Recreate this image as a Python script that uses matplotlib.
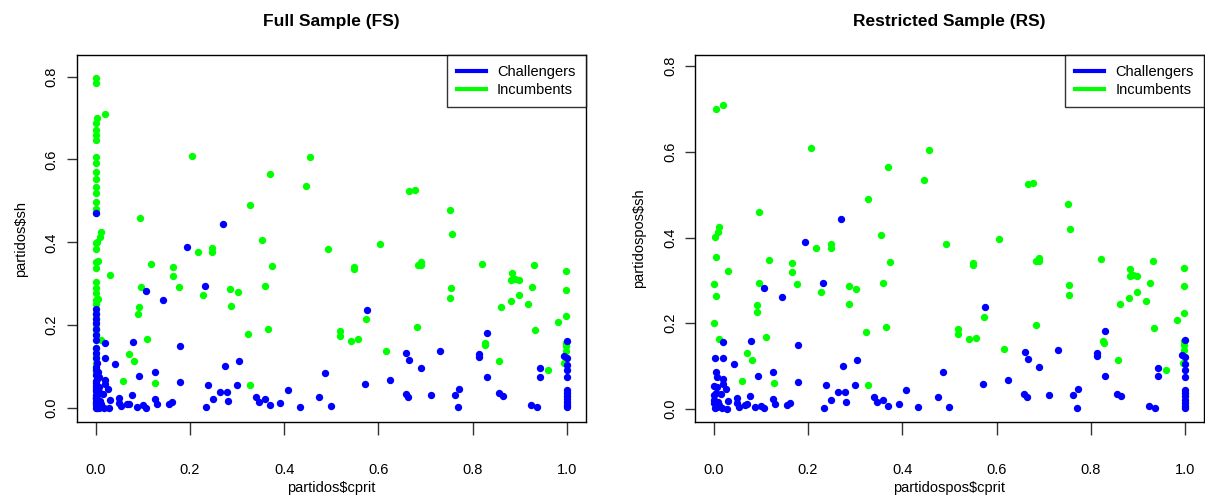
import matplotlib
matplotlib.use("Agg")
import matplotlib.pyplot as plt
from matplotlib.lines import Line2D

plt.rcParams['font.family'] = ['Liberation Sans', 'DejaVu Sans']

# ---------------- data ----------------
# points shared by both samples: incumbents
inc_x = [0.004, 0.019, 0.011, 0.009, 0.003, 0.005, 0.031, 0.001, 0.005, 0.000, 0.011,
         0.2055, 0.456, 0.370, 0.447, 0.328, 0.095, 0.354,
         0.666, 0.677, 0.752, 0.756,
         0.117, 0.165, 0.165, 0.177, 0.096, 0.092, 0.091, 0.110, 0.071, 0.082, 0.059, 0.127,
         0.218, 0.248, 0.248, 0.374, 0.360, 0.286, 0.302, 0.228, 0.287, 0.365, 0.323, 0.328,
         0.493, 0.6045, 0.549, 0.549, 0.684, 0.691, 0.691, 0.8205, 0.884, 0.8825, 0.890, 0.898,
         0.931, 0.998, 0.926, 0.998, 0.7535, 0.753, 0.8975, 0.881, 0.861, 0.918, 0.998, 0.982,
         0.933, 0.573, 0.683, 0.519, 0.519, 0.542, 0.556, 0.616, 0.8255, 0.827, 0.857,
         0.998, 0.998, 0.998, 0.995, 0.959]
inc_y = [0.700, 0.710, 0.424, 0.414, 0.401, 0.355, 0.321, 0.291, 0.263, 0.201, 0.164,
         0.609, 0.605, 0.564, 0.535, 0.491, 0.460, 0.405,
         0.525, 0.527, 0.479, 0.420,
         0.348, 0.341, 0.320, 0.292, 0.293, 0.243, 0.227, 0.168, 0.130, 0.115, 0.065, 0.060,
         0.376, 0.386, 0.376, 0.343, 0.295, 0.288, 0.280, 0.274, 0.246, 0.191, 0.179, 0.055,
         0.385, 0.397, 0.340, 0.335, 0.346, 0.352, 0.346, 0.349, 0.327, 0.310, 0.312, 0.310,
         0.346, 0.330, 0.293, 0.286, 0.289, 0.265, 0.272, 0.259, 0.245, 0.252, 0.223, 0.207,
         0.188, 0.214, 0.197, 0.187, 0.175, 0.163, 0.166, 0.139, 0.158, 0.153, 0.115,
         0.158, 0.149, 0.137, 0.108, 0.091]

# points shared by both samples: challengers
chal_x = [0.020, 0.002, 0.020, 0.042, 0.005, 0.008, 0.020, 0.020, 0.001, 0.008, 0.026, 0.005,
          0.016, 0.000, 0.000, 0.010, 0.030, 0.000, 0.012, 0.006, 0.003, 0.017, 0.029,
          0.050, 0.049, 0.053, 0.067, 0.071, 0.078, 0.088, 0.0997, 0.107, 0.093, 0.107,
          0.079, 0.1265, 0.1265, 0.131, 0.156, 0.162, 0.179, 0.179, 0.144, 0.194, 0.232,
          0.238, 0.249, 0.234, 0.263, 0.279, 0.281, 0.274, 0.304, 0.300, 0.340, 0.347,
          0.359, 0.3705, 0.392, 0.271,
          0.408, 0.433, 0.475, 0.487, 0.4993, 0.5756, 0.8305, 0.572, 0.624, 0.6596, 0.666,
          0.691, 0.731, 0.813, 0.813, 0.8305, 0.659, 0.664, 0.712, 0.762, 0.772, 0.770,
          0.855, 0.8635, 0.924, 0.937, 0.943, 0.943,
          1.000, 0.994, 1.000, 1.000, 1.000, 1.000, 1.000, 1.000, 1.000, 1.000, 1.000,
          1.000, 1.000]
chal_y = [0.157, 0.120, 0.120, 0.106, 0.087, 0.075, 0.069, 0.058, 0.054, 0.052, 0.046, 0.037,
          0.035, 0.033, 0.021, 0.017, 0.019, 0.0145, 0.0105, 0.0055, 0.0015, 0.0015, 0.000,
          0.025, 0.013, 0.0054, 0.009, 0.011, 0.031, 0.004, 0.0077, 0.0016, 0.078, 0.283,
          0.159, 0.087, 0.0226, 0.011, 0.010, 0.0147, 0.150, 0.064, 0.262, 0.390, 0.295,
          0.057, 0.022, 0.003, 0.040, 0.040, 0.017, 0.101, 0.115, 0.057, 0.027, 0.016,
          0.022, 0.008, 0.012, 0.444,
          0.045, 0.004, 0.028, 0.086, 0.0055, 0.238, 0.182, 0.059, 0.067, 0.134, 0.117,
          0.098, 0.137, 0.131, 0.1245, 0.076, 0.034, 0.027, 0.032, 0.032, 0.047, 0.002,
          0.036, 0.030, 0.007, 0.002, 0.0965, 0.076,
          0.162, 0.126, 0.121, 0.1045, 0.092, 0.075, 0.044, 0.037, 0.030, 0.022, 0.015,
          0.008, 0.002]

# extra points only in the full sample (cprit close to zero)
fs_inc_x = [0.0] * 32
fs_inc_y = [0.796, 0.784, 0.689, 0.671, 0.659, 0.646, 0.606, 0.591, 0.569, 0.552, 0.533,
            0.519, 0.497, 0.480, 0.470, 0.398, 0.383, 0.353, 0.337, 0.305, 0.277, 0.261,
            0.252, 0.229, 0.217, 0.189, 0.179, 0.145, 0.125, 0.109, 0.095, 0.085]
fs_chal_x = [0.000, 0.000, 0.000, 0.000, 0.000, 0.000, 0.000, 0.000, 0.000, 0.000, 0.000,
             0.000, 0.000, 0.000, 0.000, 0.000, 0.000, 0.000, 0.000, 0.000, 0.000, 0.000,
             0.007, 0.004, 0.009, 0.003, 0.006]
fs_chal_y = [0.470, 0.239, 0.228, 0.215, 0.205, 0.190, 0.177, 0.165, 0.145, 0.133, 0.100,
             0.092, 0.081, 0.066, 0.062, 0.047, 0.042, 0.027, 0.025, 0.012, 0.008, 0.000,
             0.000, 0.070, 0.036, 0.110, 0.020]

panels = [
    dict(title="Full Sample (FS)", xlabel="partidos$cprit", ylabel="partidos$sh",
         inc=(inc_x + fs_inc_x, inc_y + fs_inc_y),
         chal=(chal_x + fs_chal_x, chal_y + fs_chal_y),
         rect=[76.7 / 1205, 1 - 422.3 / 498, (585.7 - 76.7) / 1205, (422.3 - 55) / 498],
         ylim=(-0.034, 0.852), xlim=(-0.04, 1.04)),
    dict(title="Restricted Sample (RS)", xlabel="partidospos$cprit", ylabel="partidospos$sh",
         inc=(inc_x, inc_y), chal=(chal_x, chal_y),
         rect=[695 / 1205, 1 - 422.3 / 498, (1204 - 695) / 1205, (422.3 - 55) / 498],
         ylim=(-0.031, 0.826), xlim=(-0.0397, 1.040)),
]

xticks = [0.0, 0.2, 0.4, 0.6, 0.8, 1.0]
yticks = [0.0, 0.2, 0.4, 0.6, 0.8]
tick_labels_x = ["0.0", "0.2", "0.4", "0.6", "0.8", "1.0"]
tick_labels_y = ["0.0", "0.2", "0.4", "0.6", "0.8"]

BLUE = "#0000FF"
GREEN = "#00FF00"

fig = plt.figure(figsize=(12.05, 4.98), dpi=100)
for p in panels:
    ax = fig.add_axes(p["rect"])
    ax.scatter(p["inc"][0], p["inc"][1], s=28, c=GREEN, linewidths=0, zorder=2)
    ax.scatter(p["chal"][0], p["chal"][1], s=28, c=BLUE, linewidths=0, zorder=3)
    ax.set_xlim(*p["xlim"])
    ax.set_ylim(*p["ylim"])
    ax.set_xticks(xticks)
    ax.set_xticklabels(tick_labels_x)
    ax.set_yticks(yticks)
    ax.set_yticklabels(tick_labels_y, rotation=90, va="center")
    ax.tick_params(axis="x", length=9, width=1, labelsize=10.5, pad=20, color="#333333")
    ax.tick_params(axis="y", length=7, width=1, labelsize=10.5, pad=6, color="#333333")
    for sp in ax.spines.values():
        sp.set_linewidth(1.0)
        sp.set_color("black")
    ax.set_title(p["title"], fontsize=12.5, fontweight="bold", pad=21)
    ax.set_xlabel(p["xlabel"], fontsize=10.5, labelpad=3)
    ax.set_ylabel(p["ylabel"], fontsize=10.5, labelpad=12)
    handles = [Line2D([], [], color=BLUE, lw=3), Line2D([], [], color=GREEN, lw=3)]
    leg = ax.legend(handles, ["Challengers", "Incumbents"], loc="upper right",
                    fontsize=10.5, frameon=True, fancybox=False, borderaxespad=0,
                    handlelength=2.0, handletextpad=0.75, borderpad=0.7,
                    labelspacing=0.25)
    leg.get_frame().set_edgecolor("black")
    leg.get_frame().set_linewidth(1.0)

fig.savefig("out.png", dpi=100)
